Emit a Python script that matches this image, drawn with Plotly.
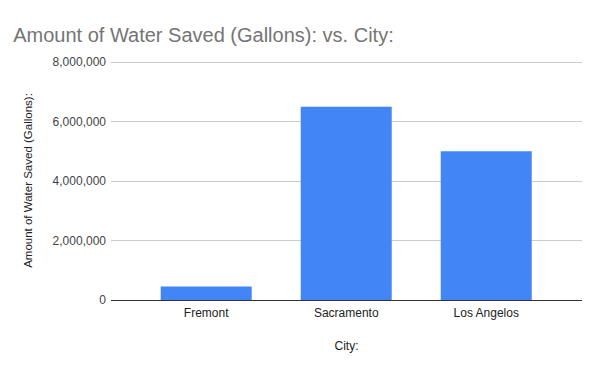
import plotly.graph_objects as go

cities = ["Fremont", "Sacramento", "Los Angelos"]
water_saved = [450000, 6500000, 5000000]
y_ticks = [0, 2000000, 4000000, 6000000, 8000000]
y_tick_labels = ["0", "2,000,000", "4,000,000", "6,000,000", "8,000,000"]

fig = go.Figure(go.Bar(
    x=cities, y=water_saved, marker=dict(color="#4285f4", line=dict(width=0)),
    width=0.65,
))

fig.update_layout(
    width=600, height=371,
    margin=dict(l=111, r=18, t=61, b=71),
    paper_bgcolor="white", plot_bgcolor="white",
    font=dict(family="Liberation Sans, Arial, sans-serif", size=12, color="#222222"),
    title=dict(text="Amount of Water Saved (Gallons): vs. City:", x=0.022, xanchor="left",
               y=0.905, yanchor="middle",
               font=dict(size=20, color="#757575", family="Liberation Sans, Arial, sans-serif")),
    showlegend=False,
    bargap=0.35,
)
fig.update_yaxes(
    range=[0, 8040000], tickvals=y_ticks, ticktext=y_tick_labels,
    showgrid=True, gridcolor="#cccccc", gridwidth=1,
    zeroline=True, zerolinecolor="#333333", zerolinewidth=1.3,
    ticks="", ticklabelstandoff=4,
    title=dict(text="Amount of Water Saved (Gallons):", font=dict(size=11.5, color="#222222"), standoff=17),
    tickfont=dict(size=12, color="#444444"),
)
fig.update_xaxes(
    range=[-0.68, 2.684], showgrid=False, showline=False, ticks="",
    ticklabelstandoff=4,
    tickfont=dict(size=12, color="#222222"),
    title=dict(text="City:", font=dict(size=12, color="#222222"), standoff=22),
)
fig.write_html("out.html", config={"displayModeBar": False},
               post_script="document.body.style.margin='0';")
